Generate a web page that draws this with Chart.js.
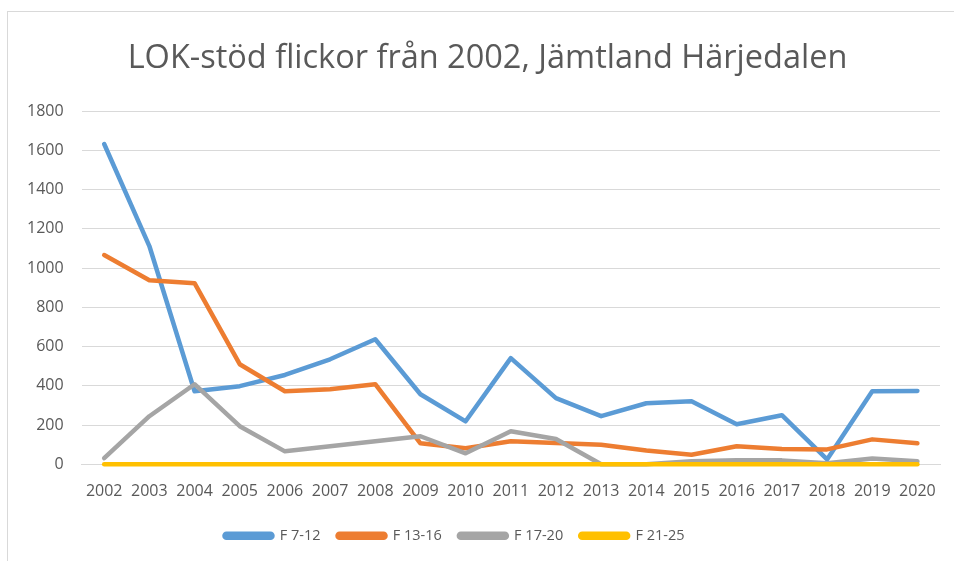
<!DOCTYPE html>
<html>
<head>
<meta charset="utf-8">
<script src="https://cdn.jsdelivr.net/npm/chart.js@4.4.0/dist/chart.umd.min.js"></script>
<style>
    body { margin: 0; background: #fff; overflow: hidden; }
    .frame { position: absolute; left: 7px; top: 11px; width: 1000px; height: 600px; border: 1px solid #d9d9d9; }
    .wrap { position: absolute; left: 0; top: 0; width: 954px; height: 561px; }
</style>
</head>
<body>
<div class="frame"></div>
<div class="wrap"><canvas id="myChart" width="954" height="561"></canvas></div>
<script>
// data
const years = ['2002', '2003', '2004', '2005', '2006', '2007', '2008', '2009', '2010', '2011',
    '2012', '2013', '2014', '2015', '2016', '2017', '2018', '2019', '2020'];
const f7_12 = [1632, 1112, 372, 398, 455, 535, 637, 357, 219, 541, 337, 245, 311, 321, 204, 250, 25, 372, 374];
const f13_16 = [1066, 938, 923, 510, 372, 382, 408, 107, 82, 117, 109, 100, 70, 49, 92, 78, 76, 127, 107];
const f17_20 = [31, 245, 408, 194, 66, 92, 117, 143, 56, 168, 129, 0, 0, 15, 20, 20, 5, 30, 15];
const f21_25 = [0, 0, 0, 0, 0, 0, 0, 0, 0, 0, 0, 0, 0, 0, 0, 0, 0, 0, 0];
const yTicks = [0, 200, 400, 600, 800, 1000, 1200, 1400, 1600, 1800];

const textColor = '#595959';
const gridColor = '#d9d9d9';

function serie(label, values, color, order) {
    return {
        label: label,
        data: values,
        borderColor: color,
        backgroundColor: color,
        borderWidth: 4.5,
        borderCapStyle: 'round',
        borderJoinStyle: 'round',
        pointRadius: 0,
        tension: 0,
        clip: 6,
        order: order
    };
}

// title sits a bit right of centre, legend a bit left (like the original)
const shiftBoxes = {
    id: 'shiftBoxes',
    afterLayout(chart) {
        chart.titleBlock.left += 13
        chart.titleBlock.right += 13
        chart.legend.left -= 20
        chart.legend.right -= 20
    }
};

const config = {
    type: 'line',
    data: {
        labels: years,
        datasets: [
            serie('F 7-12', f7_12, '#5b9bd5', 4),
            serie('F 13-16', f13_16, '#ed7d31', 3),
            serie('F 17-20', f17_20, '#a5a5a5', 2),
            serie('F 21-25', f21_25, '#ffc000', 1)
        ]
    },
    options: {
        responsive: false,
        animation: false,
        layout: { padding: { left: 9, right: 14, top: 0, bottom: 8 } },
        plugins: {
            title: {
                display: true,
                text: 'LOK-stöd flickor från 2002, Jämtland Härjedalen',
                color: textColor,
                font: { family: 'Open Sans', size: 32.5, weight: 'normal' },
                padding: { top: 39, bottom: 33 }
            },
            legend: {
                position: 'bottom',
                labels: {
                    color: textColor,
                    font: { family: 'Open Sans', size: 14.5 },
                    boxWidth: 48,
                    boxHeight: 4,
                    useBorderRadius: true,
                    borderRadius: 2,
                    padding: 17,
                    sort: (a, b) => a.datasetIndex - b.datasetIndex
                }
            },
            tooltip: { enabled: false }
        },
        scales: {
            x: {
                offset: true,
                grid: { display: false },
                border: { color: gridColor, width: 1 },
                ticks: { color: textColor, font: { family: 'Open Sans', size: 16 }, maxRotation: 0, padding: 10 }
            },
            y: {
                min: 0,
                max: 1800,
                afterBuildTicks: axis => { axis.ticks = yTicks.map(v => ({ value: v })) },
                grid: { color: gridColor, lineWidth: 1, drawTicks: false },
                border: { display: false },
                ticks: { color: textColor, font: { family: 'Open Sans', size: 16 }, padding: 18, callback: v => String(v) }
            }
        }
    },
    plugins: [shiftBoxes]
};

const myChart = new Chart(document.getElementById('myChart'), config);
</script>
</body>
</html>
